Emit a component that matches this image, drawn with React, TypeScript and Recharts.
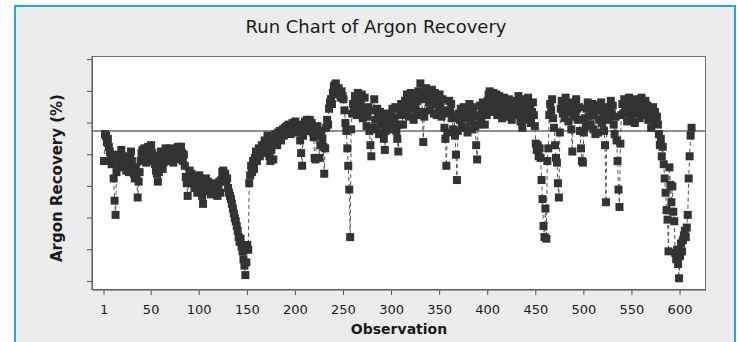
import { Line, LineChart, ReferenceLine, XAxis, YAxis } from "recharts";

const TITLE = "Run Chart of Argon Recovery";
const X_LABEL = "Observation";
const Y_LABEL = "Argon Recovery (%)";

// argon recovery (%) per observation, in run order
const recoveryA = [
  77.6, 79.3, 79.2, 78.8, 79.0, 78.5, 78.2, 77.8, 77.4, 78.0,
  76.5, 75.1, 74.2, 76.9, 77.5, 78.0, 77.2, 77.8, 78.3, 77.6,
  77.3, 77.9, 77.5, 77.0, 77.6, 77.2, 76.9, 77.8, 78.2, 77.6,
  77.1, 76.8, 76.5, 77.2, 76.6, 75.3, 76.3, 76.9, 77.6, 78.1,
  78.3, 77.8, 78.4, 78.0, 77.5, 78.2, 78.5, 77.9, 78.3, 78.6,
  78.1, 77.6, 77.9, 77.4, 77.0, 76.8, 76.3, 76.9, 77.6, 78.2,
  77.8, 77.1, 77.5, 78.0, 78.4, 77.9, 78.3, 77.6, 78.1, 78.4,
  77.8, 78.2, 77.5, 78.0, 78.3, 77.7, 78.1, 78.5, 78.2, 77.8,
  78.5, 78.1, 77.6, 78.0, 77.3, 76.6, 76.2, 75.4, 76.5, 77.0,
  76.4, 76.8, 76.2, 76.6, 75.9, 76.4, 76.0, 75.6, 76.3, 76.7,
  76.1, 75.7, 75.4, 74.9, 75.8, 76.2, 76.5, 75.9, 76.3, 75.7,
  76.0, 75.5, 75.9, 76.2, 75.6, 75.9, 75.5, 75.8, 75.4, 75.9,
  76.3, 75.6, 76.4, 76.9, 77.0, 76.7, 76.8, 76.3, 76.5, 75.9,
  75.6, 75.4, 75.2, 74.9, 74.6, 74.3, 74.0, 73.8, 73.5, 73.2,
  72.8, 72.5, 72.7, 72.2, 71.9, 71.4, 71.0, 70.4, 71.2, 72.3,
];

const recoveryB = [
  72.0, 76.2, 76.7, 77.3, 76.9, 77.6, 77.1, 77.8, 78.2, 77.6,
  78.0, 78.4, 77.9, 78.3, 78.6, 78.1, 78.5, 78.9, 78.4, 78.8,
  79.2, 78.6, 77.9, 77.6, 78.3, 79.0, 77.7, 78.7, 79.3, 79.0,
  78.6, 79.4, 79.1, 79.5, 78.9, 79.3, 79.6, 79.2, 79.7, 79.4,
  79.8, 79.5, 79.9, 79.6, 79.3, 79.8, 80.0, 79.5, 79.7, 80.1,
  79.6, 79.9, 79.4, 79.7, 78.9, 78.1, 77.3, 79.2, 79.8, 80.1,
  79.7, 80.2, 79.9, 79.5, 80.2, 79.8, 80.0, 79.4, 79.1, 77.8,
  77.7, 79.3, 79.8, 79.2, 77.8, 78.6, 79.5, 79.0, 78.5, 76.8,
  78.4, 79.7, 80.2, 79.9, 80.9, 81.3, 81.5, 81.2, 81.9, 82.3,
  82.4, 82.5, 82.1, 81.8, 82.2, 81.9, 81.6, 82.0, 81.7, 81.5,
  80.8, 80.0, 79.5, 78.4, 77.3, 75.8, 72.8, 79.6, 80.6, 81.2,
  80.9, 81.7, 81.3, 80.5, 81.9, 81.5, 80.8, 81.2, 81.8, 80.3,
  80.9, 81.6, 80.6, 79.8, 80.4, 81.0, 79.5, 78.6, 77.9, 79.7,
  80.8, 81.5, 80.2, 79.6, 80.9, 80.4, 79.3, 80.7, 79.9, 80.3,
  79.4, 79.0, 78.3, 79.5, 80.1, 80.6, 79.8, 80.2, 79.6, 80.4,
];

const recoveryC = [
  80.9, 79.8, 80.3, 81.0, 79.5, 79.0, 78.2, 79.9, 80.7, 81.2,
  80.5, 79.9, 80.8, 81.4, 80.6, 81.8, 81.1, 80.4, 81.6, 81.9,
  80.9, 81.3, 80.2, 81.7, 81.0, 80.5, 81.4, 82.0, 81.6, 82.5,
  81.8, 80.7, 78.8, 80.4, 81.5, 82.2, 81.6, 82.0, 81.3, 80.8,
  81.7, 82.1, 81.4, 80.6, 81.9, 81.2, 80.5, 81.6, 80.9, 81.8,
  81.3, 80.4, 81.5, 80.8, 79.7, 79.0, 77.3, 79.4, 80.6, 81.4,
  80.8, 81.2, 80.3, 79.6, 80.5, 79.2, 78.0, 76.4, 79.5, 80.6,
  80.2, 80.9, 79.8, 80.5, 81.0, 80.3, 79.7, 80.6, 79.4, 80.8,
  81.2, 80.1, 80.7, 79.6, 81.0, 80.4, 79.8, 78.6, 77.7, 79.9,
  80.5, 81.1, 80.3, 80.8, 81.3, 80.6, 79.9, 81.0, 80.5, 81.4,
  81.8, 82.0, 81.2, 80.7, 81.6, 81.9, 80.9, 81.3, 81.8, 80.5,
  81.1, 81.7, 80.8, 81.4, 80.3, 81.0, 81.6, 80.6, 81.2, 80.4,
  80.9, 81.5, 80.7, 81.2, 80.2, 81.0, 81.4, 80.5, 80.8, 81.3,
  80.6, 81.7, 80.9, 80.1, 81.2, 79.7, 80.5, 81.0, 81.5, 80.2,
  80.8, 81.6, 80.4, 81.1, 80.0, 80.7, 81.3, 80.5, 79.8, 78.7,
];

const recoveryD = [
  78.3, 78.6, 77.9, 78.4, 77.8, 76.4, 75.2, 73.5, 72.8, 74.6,
  72.7, 77.6, 78.4, 80.5, 81.2, 80.8, 81.5, 80.3, 79.7, 78.6,
  77.8, 77.5, 76.2, 75.3, 79.4, 80.9, 81.4, 80.6, 81.1, 80.3,
  81.6, 80.8, 81.2, 80.1, 80.7, 81.3, 79.6, 78.2, 80.5, 81.1,
  80.4, 81.5, 80.9, 80.2, 81.0, 79.5, 78.4, 77.6, 77.5, 79.4,
  80.3, 79.8, 80.9, 81.3, 80.4, 81.0, 79.9, 80.6, 81.2, 79.6,
  80.5, 79.3, 80.8, 81.1, 79.4, 80.2, 80.9, 81.3, 80.0, 80.6,
  79.5, 78.6, 75.0, 80.4, 81.0, 80.2, 80.8, 81.4, 80.6, 81.1,
  79.9, 79.3, 80.4, 78.9, 77.6, 75.8, 74.7, 78.7, 80.5, 81.2,
  80.6, 81.5, 80.9, 81.3, 80.1, 80.7, 81.6, 81.0, 80.4, 81.4,
  80.8, 81.2, 80.0, 80.6, 81.5, 80.9, 81.3, 80.3, 81.0, 81.6,
  80.7, 81.2, 80.5, 81.4, 80.8, 81.1, 80.2, 80.9, 80.4, 79.7,
  80.6, 81.0, 80.3, 80.7, 80.0, 80.4, 79.9, 79.3, 78.6, 79.0,
  77.9, 78.5, 77.4, 76.5, 75.6, 74.5, 73.9, 71.9, 77.2, 76.1,
  75.0, 76.0, 74.4, 73.8, 71.8, 71.4, 72.0, 71.1, 70.2, 71.6,
  72.4, 71.9, 72.6, 72.9, 73.2, 72.8, 73.4, 74.2, 76.5, 77.9,
  79.2, 79.7,
];

const recovery = [...recoveryA, ...recoveryB, ...recoveryC, ...recoveryD];

const xTicks = [1, 50, 100, 150, 200, 250, 300, 350, 400, 450, 500, 550, 600];
const yTicks = [70, 72, 74, 76, 78, 80, 82, 84];

const data = recovery.map((value, i) => ({ obs: i + 1, value }));

const sorted = [...recovery].sort((a, b) => a - b);
const mid = Math.floor(sorted.length / 2);
const median =
  sorted.length % 2 ? sorted[mid] : (sorted[mid - 1] + sorted[mid]) / 2;

const FONT = "'DejaVu Sans', Verdana, sans-serif";

// plot rectangle inside the 738x342 frame
const PLOT = { left: 92, top: 56, right: 706, bottom: 290 };

function renderSquare(props: any) {
  const { cx, cy, index } = props;
  if (cx == null || cy == null) return <g key={`sq-${index}`} />;
  return (
    <rect
      key={`sq-${index}`}
      x={cx - 4}
      y={cy - 4}
      width={8}
      height={8}
      fill="#333333"
    />
  );
}

export default function App() {
  return (
    <div
      style={{
        position: "absolute",
        left: 0,
        top: 0,
        width: 738,
        height: 342,
        overflow: "hidden",
        background: "#ffffff",
        fontFamily: FONT,
      }}
    >
      <div
        style={{
          position: "absolute",
          left: 14,
          top: 5,
          width: 722,
          height: 360,
          boxSizing: "border-box",
          border: "2px solid #27a4dc",
          background: "#ececec",
        }}
      />
      <div
        style={{
          position: "absolute",
          left: PLOT.left,
          top: PLOT.top,
          width: PLOT.right - PLOT.left,
          height: PLOT.bottom - PLOT.top,
          boxSizing: "border-box",
          border: "1.5px solid #6e6e6e",
          background: "#ffffff",
        }}
      />
      <div
        style={{
          position: "absolute",
          left: 0,
          width: 752,
          top: 16,
          textAlign: "center",
          fontSize: 18,
          color: "#1a1a1a",
        }}
      >
        {TITLE}
      </div>
      <div
        style={{
          position: "absolute",
          left: 57,
          top: 178,
          transform: "translate(-50%, -50%) rotate(-90deg)",
          whiteSpace: "nowrap",
          fontSize: 15,
          fontWeight: "bold",
          color: "#1a1a1a",
        }}
      >
        {Y_LABEL}
      </div>
      <div style={{ position: "absolute", left: 0, top: 0 }}>
        <LineChart
          width={738}
          height={342}
          data={data}
          margin={{ top: PLOT.top, right: 738 - PLOT.right, left: PLOT.left - 30, bottom: 7 }}
        >
          <XAxis
            dataKey="obs"
            type="number"
            domain={[-11.5, 627]}
            allowDataOverflow
            ticks={xTicks}
            interval={0}
            height={45}
            tickSize={5}
            tickMargin={10}
            stroke="#555555"
            tick={{ fontSize: 13, fill: "#1a1a1a", fontFamily: FONT }}
            label={{
              value: X_LABEL,
              position: "insideBottom",
              offset: 1,
              fontSize: 14,
              fontWeight: "bold",
              fill: "#1a1a1a",
              fontFamily: FONT,
            }}
          />
          <YAxis
            type="number"
            domain={[69.46, 84.23]}
            allowDataOverflow
            ticks={yTicks}
            width={30}
            tickSize={5}
            stroke="#555555"
            tickFormatter={() => ""}
          />
          <ReferenceLine y={median} stroke="#6a6a6a" strokeWidth={1.5} />
          <Line
            type="linear"
            dataKey="value"
            stroke="#555555"
            strokeWidth={1}
            strokeDasharray="4 3"
            dot={renderSquare}
            activeDot={false}
            isAnimationActive={false}
          />
        </LineChart>
      </div>
    </div>
  );
}
